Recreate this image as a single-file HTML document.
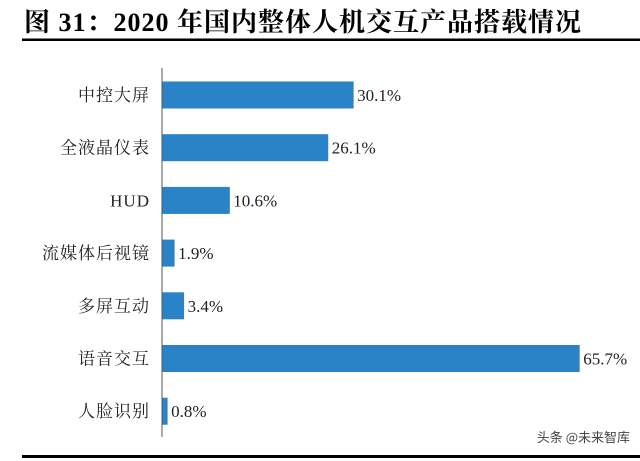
<!DOCTYPE html>
<html><head><meta charset="utf-8"><style>
body{margin:0;background:#fff;width:640px;height:461px;overflow:hidden;position:relative}
svg{position:absolute;left:0;top:0}
</style></head><body>
<svg width="640" height="461" xmlns="http://www.w3.org/2000/svg">
<text x="24" y="31" font-family="Liberation Serif, Noto Serif CJK SC, serif" font-weight="bold" font-size="26" letter-spacing="1" fill="#000">图  31：2020 年国内整体人机交互产品搭载情况</text>
<rect x="22" y="38.5" width="618" height="2.5" fill="#000"/>
<rect x="22" y="455" width="618" height="3" fill="#000"/>
<line x1="162" y1="68" x2="162" y2="437" stroke="#555" stroke-width="1"/>
<g id="bars"></g>
<text x="630" y="442" text-anchor="end" font-family="Noto Sans CJK SC, sans-serif" font-size="13" fill="#444">头条 @未来智库</text>
</svg>
<script>
const categories=["中控大屏","全液晶仪表","HUD","流媒体后视镜","多屏互动","语音交互","人脸识别"];
const values=[30.1,26.1,10.6,1.9,3.4,65.7,0.8];
const valueLabels=["30.1%","26.1%","10.6%","1.9%","3.4%","65.7%","0.8%"];
const x0=162, pxPer=6.35, y0=95, step=52.7, bh=27;
const xs=v=>x0+v*pxPer, ys=i=>y0+i*step;
const g=document.getElementById('bars'), ns="http://www.w3.org/2000/svg";
categories.forEach((c,i)=>{
 const r=document.createElementNS(ns,'rect');
 r.setAttribute('x',x0+0.5);r.setAttribute('y',ys(i)-bh/2);
 r.setAttribute('width',xs(values[i])-x0);r.setAttribute('height',bh);r.setAttribute('fill','#2a83c7');
 
 
 g.appendChild(r);
 const t=document.createElementNS(ns,'text');
 t.setAttribute('x',150);t.setAttribute('y',ys(i)+6);t.setAttribute('text-anchor','end');
 t.setAttribute('font-family','Liberation Serif, Noto Serif CJK SC, serif');t.setAttribute('font-size','17');t.setAttribute('letter-spacing','1');t.setAttribute('fill','#222');
 t.textContent=c;
 
 
 g.appendChild(t);
 const v=document.createElementNS(ns,'text');
 v.setAttribute('x',xs(values[i])+4);v.setAttribute('y',ys(i)+6);
 v.setAttribute('font-family','Liberation Serif, serif');v.setAttribute('font-size','17');v.setAttribute('fill','#222');
 v.textContent=valueLabels[i];
 
 
 g.appendChild(v);
});
</script>
</body></html>
